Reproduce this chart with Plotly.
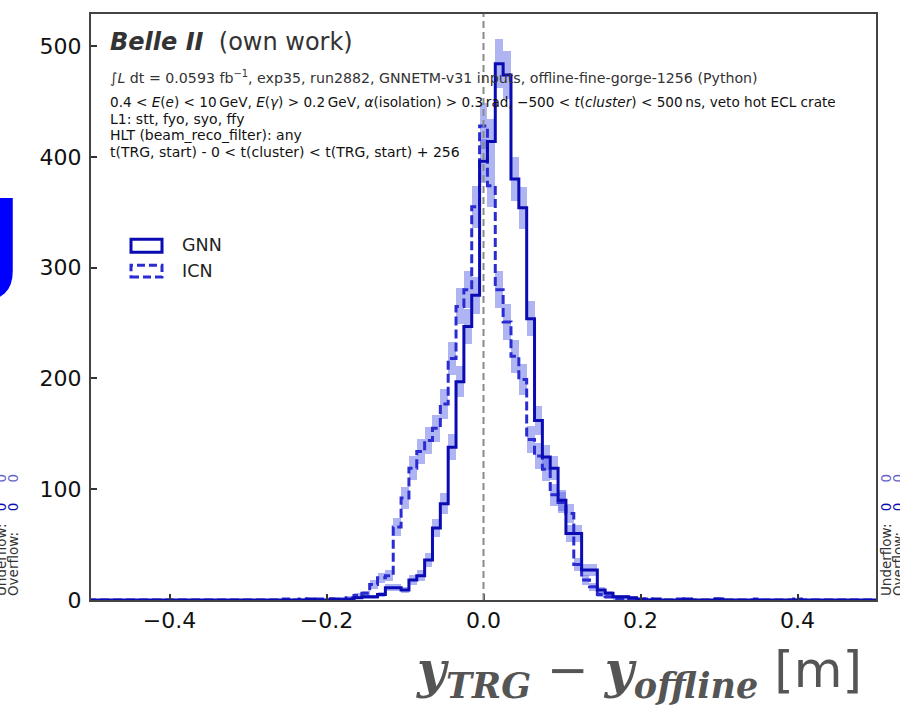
import math
import plotly.graph_objects as go

# ---------------- data ----------------
bin_centers = [round(-0.5 + 0.01 * i, 2) for i in range(101)]

gnn_counts = [
    0, 0, 0, 0, 0, 0, 0, 0, 0, 0,
    0, 0, 0, 0, 0, 0, 0, 0, 0, 0,
    0, 0, 0, 0, 0, 0, 0, 0, 1, 0,
    0, 1, 0, 1, 2, 3, 3, 5, 11, 11,
    9, 18, 22, 36, 65, 87, 138, 197, 247, 275,
    396, 414, 484, 474, 380, 354, 254, 162, 129, 119,
    90, 60, 60, 27, 27, 9, 6, 3, 3, 2,
    1, 0, 1, 0, 0, 0, 1, 0, 0, 0,
    1, 0, 0, 0, 0, 0, 0, 0, 0, 0,
    0, 0, 0, 0, 0, 0, 0, 0, 0, 0,
    0,
]

icn_counts = [
    0, 0, 0, 0, 0, 0, 0, 0, 0, 0,
    0, 0, 0, 0, 0, 0, 0, 0, 0, 0,
    0, 0, 0, 0, 0, 1, 0, 1, 0, 1,
    0, 1, 1, 2, 4, 6, 14, 20, 22, 66,
    92, 119, 134, 144, 155, 177, 218, 265, 280, 355,
    428, 374, 280, 251, 220, 199, 145, 130, 118, 95,
    88, 78, 32, 18, 12, 5, 3, 1, 1, 0,
    0, 1, 0, 0, 0, 1, 0, 0, 0, 0,
    1, 0, 0, 0, 0, 1, 0, 0, 0, 0,
    1, 0, 0, 0, 0, 0, 0, 0, 0, 0,
    0,
]

series_names = ["GNN", "ICN"]
x_tickvals = [-0.4, -0.2, 0.0, 0.2, 0.4]
x_ticktext = ["\u22120.4", "\u22120.2", "0.0", "0.2", "0.4"]
y_tickvals = [0, 100, 200, 300, 400, 500]
underflow_values = [0, 0]
overflow_values = [0, 0]

# ---------------- styles ----------------
GNN_COLOR = "#0b0bb4"
ICN_COLOR = "#2b2bd2"
BAND_COLOR = "rgba(95,105,232,0.5)"
BIN_W = 0.01

W, H = 900, 706
L, R, T, B = 91, 876, 12, 600


def px(x):
    return (x - L) / (R - L)


def py(y):
    return (B - y) / (B - T)


fig = go.Figure()

# error bands (sqrt(N))
for counts in (icn_counts, gnn_counts):
    xs, bases, heights = [], [], []
    for c, v in zip(bin_centers, counts):
        if v > 0:
            e = math.sqrt(v)
            xs.append(c)
            bases.append(max(v - e, 0))
            heights.append(2 * e if v - e > 0 else v + e)
    fig.add_trace(go.Bar(
        x=xs, y=heights, base=bases, width=BIN_W,
        marker=dict(color=BAND_COLOR, line=dict(width=0)),
        showlegend=False, hoverinfo="skip",
    ))

# step histograms
edges = [round(c - BIN_W / 2, 3) for c in bin_centers] + [round(bin_centers[-1] + BIN_W / 2, 3)]
fig.add_trace(go.Scatter(
    x=edges, y=icn_counts + [icn_counts[-1]], mode="lines",
    line=dict(shape="hv", color=ICN_COLOR, width=3, dash="9px,4px"),
    name=series_names[1], showlegend=False,
))
fig.add_trace(go.Scatter(
    x=edges, y=gnn_counts + [gnn_counts[-1]], mode="lines",
    line=dict(shape="hv", color=GNN_COLOR, width=3),
    name=series_names[0], showlegend=False,
))

shapes = [
    dict(type="line", xref="x", yref="paper", x0=0, x1=0, y0=0, y1=1,
         line=dict(color="#8a8a8a", width=2, dash="7px,4px")),
    # legend boxes
    dict(type="rect", xref="paper", yref="paper",
         x0=px(131), x1=px(162), y0=py(251), y1=py(238),
         line=dict(color=GNN_COLOR, width=3), fillcolor="rgba(0,0,0,0)"),
    dict(type="rect", xref="paper", yref="paper",
         x0=px(131), x1=px(162), y0=py(276), y1=py(264),
         line=dict(color=ICN_COLOR, width=3, dash="8px,4px"), fillcolor="rgba(0,0,0,0)"),
]

TXT = "DejaVu Sans"
ann = []


def add(text, x, y, size, color="#222", xa="left", ya="middle", angle=0, family=TXT):
    ann.append(dict(text=text, x=px(x), y=py(y), xref="paper", yref="paper",
                    xanchor=xa, yanchor=ya, showarrow=False, textangle=angle,
                    font=dict(size=size, color=color, family=family)))


add("<b><i>Belle II</i></b>  (own work)", 108, 40, 24, "#333")
add("\u222b<i>L</i> dt = 0.0593 fb<sup>\u22121</sup>, exp35, run2882, GNNETM-v31 inputs, "
    "offline-fine-gorge-1256 (Python)", 108, 75, 14.2, "#333")
add("0.4 &lt; <i>E</i>(<i>e</i>) &lt; 10\u2009GeV, <i>E</i>(<i>\u03b3</i>) &gt; 0.2\u2009GeV, "
    "<i>\u03b1</i>(isolation) &gt; 0.3\u2009rad, \u2212500 &lt; <i>t</i>(<i>cluster</i>) &lt; 500\u2009ns, "
    "veto hot ECL crate", 108, 100, 13.6, "#111")
add("L1: stt, fyo, syo, ffy", 108, 117, 14, "#111")
add("HLT (beam_reco_filter): any", 108, 133, 14, "#111")
add("t(TRG, start) - 0 &lt; t(cluster) &lt; t(TRG, start) + 256", 108, 150, 14, "#111")

# legend text
add(series_names[0], 180, 244, 17.5, "#222")
add(series_names[1], 180, 270, 17.5, "#222")

# x-axis title
add('<span style="font-family:DejaVu Serif"><b><i>y</i></b><sub><b><i>TRG</i></b></sub>'
    ' \u2212 <b><i>y</i></b><sub><b><i>offline</i></b></sub></span> [m]',
    864, 673, 50, "#555", xa="right")

# under/overflow side labels
zero_colors = [GNN_COLOR, "#6464c8"]
for xcol, label, vals in [(1, "Underflow:", underflow_values), (13, "Overflow:", overflow_values),
                          (886, "Underflow:", underflow_values), (898, "Overflow:", overflow_values)]:
    add(label, xcol, 598, 13.5, "#333", xa="center", ya="bottom", angle=-90)
    add(str(vals[0]), xcol, 507, 13.5, zero_colors[0], xa="center", angle=-90)
    add(str(vals[1]), xcol, 478, 13.5, zero_colors[1], xa="center", angle=-90)

# clipped blue glyph at the very left edge
add("<b>J</b>", 25, 240, 110, "#0000ff", xa="right")

fig.update_layout(
    width=W, height=H,
    margin=dict(l=L, r=W - R, t=T, b=H - B),
    paper_bgcolor="white", plot_bgcolor="white",
    barmode="overlay", bargap=0, showlegend=False,
    shapes=shapes, annotations=ann,
    font=dict(family=TXT, color="#111"),
    xaxis=dict(range=[-0.5, 0.5], tickvals=x_tickvals, ticktext=x_ticktext,
               ticks="inside", ticklen=6, tickwidth=1.5, tickcolor="#333",
               showline=True, linecolor="#444", linewidth=2, mirror=True,
               showgrid=False, zeroline=False,
               tickfont=dict(size=22, color="#111"), ticklabelstandoff=0),
    yaxis=dict(range=[0, 529], tickvals=y_tickvals,
               ticks="inside", ticklen=6, tickwidth=1.5, tickcolor="#333",
               showline=True, linecolor="#444", linewidth=2, mirror=True,
               showgrid=False, zeroline=False,
               tickfont=dict(size=22, color="#111"), ticklabelstandoff=3),
)

fig.write_html("out.html", config={"displayModeBar": False},
               post_script="document.body.style.margin='0px';")
